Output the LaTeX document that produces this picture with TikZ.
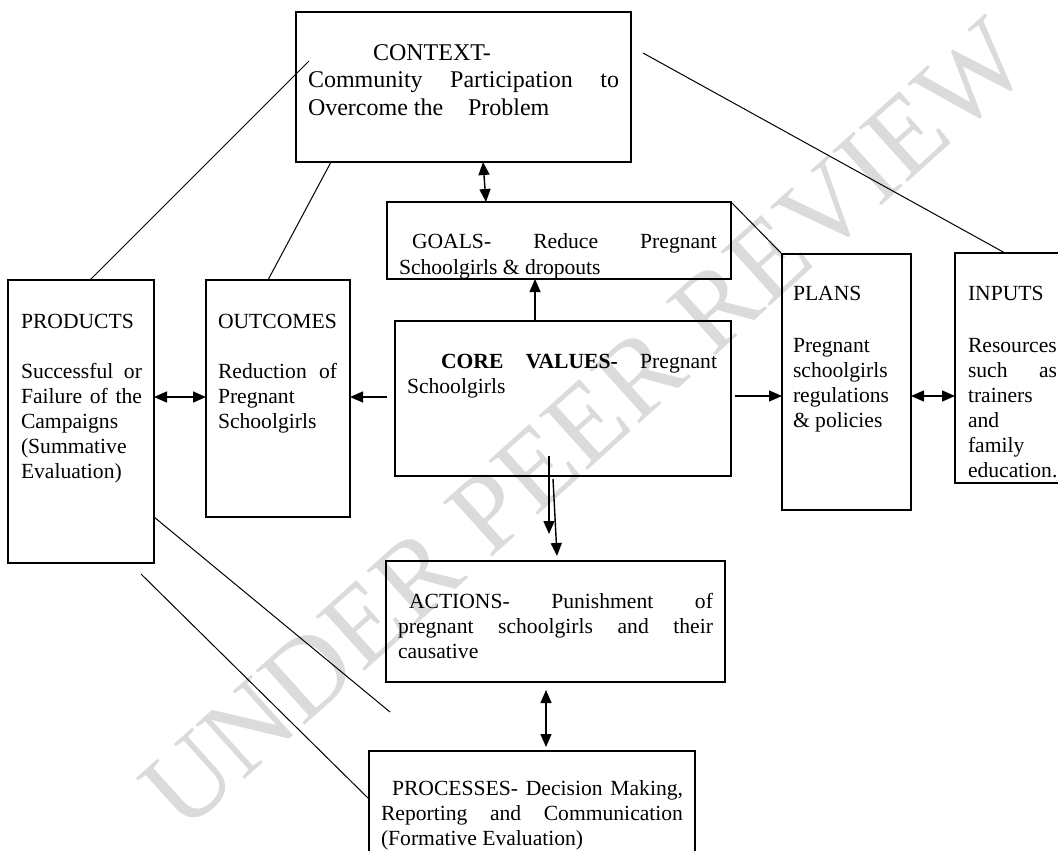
\documentclass[tikz,border=0pt]{standalone}
\usepackage{fontspec}
\setmainfont{Liberation Serif}
\usetikzlibrary{arrows.meta,calc}

\tikzset{
  box/.style={draw, line width=1pt, inner sep=0pt, outer sep=0pt, anchor=north west},
  txt/.style={inner sep=0pt, outer sep=0pt, anchor=base west, font=\fontsize{10.8}{12.5}\selectfont},
  ctxt/.style={inner sep=0pt, outer sep=0pt, anchor=base west, font=\fontsize{12}{13.75}\selectfont},
  con/.style={line width=0.7pt},
  arr/.style={con, -{Triangle[length=6.5pt,width=5.5pt]}},
  darr/.style={con, {Triangle[length=6.5pt,width=5.5pt]}-{Triangle[length=6.5pt,width=5.5pt]}},
  thinline/.style={line width=0.5pt},
  wmark/.style={rotate=42, text=black!14, inner sep=0pt, font=\fontsize{55.75}{60}\selectfont}
}

\begin{document}
\begin{tikzpicture}[x=0.5pt,y=-0.5pt]
\useasboundingbox (0,0) rectangle (1058,850);
\clip (0,0) rectangle (1058,850);

% watermark
\node[wmark] (wm) at (585,425) {UNDER PEER REVIEW};

% boxes
\node[box, minimum width=167.5pt, minimum height=75pt]   (ctx)    at (296,12)  {};
\node[box, minimum width=172pt,   minimum height=38.5pt] (goals)  at (387,202) {};
\node[box, minimum width=168pt,   minimum height=77.5pt] (core)   at (395,321) {};
\node[box, minimum width=73pt,    minimum height=141.5pt](prod)   at (8,280)   {};
\node[box, minimum width=72pt,    minimum height=118.5pt](outc)   at (206,280) {};
\node[box, minimum width=64.5pt,  minimum height=128pt]  (plans)  at (782,254) {};
\node[box, minimum width=57.5pt,  minimum height=115pt]  (inputs) at (955,253) {};
\node[box, minimum width=169.5pt, minimum height=60.5pt] (actions)at (386,561) {};
\node[box, minimum width=163pt,   minimum height=59.5pt] (procs)  at (369,751) {};

% CONTEXT
\node[ctxt] (ctxA) at (373,61)  {CONTEXT-};
\node[ctxt] (ctxB) at (308,88)  {\hbox to 155.5pt{Community\hfill Participation\hfill to}};
\node[ctxt] (ctxC) at (308,116) {\hbox to 80pt{Overcome the\hfil}Problem};

% GOALS
\node[txt] (gA) at (412,249) {\hbox to 152.5pt{GOALS-\hfill Reduce\hfill Pregnant}};
\node[txt] (gB) at (399,274) {Schoolgirls \& dropouts};

% CORE VALUES
\node[txt] (cA) at (441,368) {\hbox to 138pt{\textbf{CORE}\hfill\textbf{VALUES-}\hfill Pregnant}};
\node[txt] (cB) at (407,393) {Schoolgirls};

% PRODUCTS
\node[txt] (pA) at (21,328) {PRODUCTS};
\node[txt] (pB) at (21,378) {\hbox to 60.5pt{Successful\hfill or}};
\node[txt] (pC) at (21,403) {\hbox to 60.5pt{Failure\hfill of\hfill the}};
\node[txt] (pD) at (21,428) {Campaigns};
\node[txt] (pE) at (21,453) {(Summative};
\node[txt] (pF) at (21,478) {Evaluation)};

% OUTCOMES
\node[txt] (oA) at (218,328) {OUTCOMES};
\node[txt] (oB) at (218,378) {\hbox to 59.5pt{Reduction\hfill of}};
\node[txt] (oC) at (218,403) {Pregnant};
\node[txt] (oD) at (218,428) {Schoolgirls};

% PLANS
\node[txt] (lA) at (793,300) {PLANS};
\node[txt] (lB) at (793,352) {Pregnant};
\node[txt] (lC) at (793,377) {schoolgirls};
\node[txt] (lD) at (793,402) {regulations};
\node[txt] (lE) at (793,427) {\& policies};

% INPUTS
\node[txt] (iA) at (968,300) {INPUTS};
\node[txt] (iB) at (968,352) {Resources};
\node[txt] (iC) at (968,377) {\hbox to 44.5pt{such\hfill as}};
\node[txt] (iD) at (968,402) {trainers};
\node[txt] (iE) at (968,427) {and};
\node[txt] (iF) at (968,452) {family};
\node[txt] (iG) at (968,477) {education.};

% ACTIONS
\node[txt] (aA) at (409,608) {\hbox to 152pt{ACTIONS-\hfill Punishment\hfill of}};
\node[txt] (aB) at (398,633) {\hbox to 157.5pt{pregnant\hfill schoolgirls\hfill and\hfill their}};
\node[txt] (aC) at (398,658) {causative};

% PROCESSES
\node[txt] (rA) at (392,795) {\hbox to 145.5pt{PROCESSES-\hfill Decision\hfill Making,}};
\node[txt] (rB) at (381,820) {\hbox to 151pt{Reporting\hfill and\hfill Communication}};
\node[txt] (rC) at (381,845) {(Formative Evaluation)};

% arrows
\draw[darr] (483,0 |- ctx.south) -- (486,0 |- goals.north);
\draw[arr] (535,0 |- core.north) -- (535,0 |- goals.south);
\draw[arr] ($(core.west |- 0,397)+(-8,0)$) -- (outc.east |- 0,397);
\draw[darr] (prod.east |- 0,397) -- (outc.west |- 0,397);
\draw[arr] ($(core.east |- 0,396)+(4,0)$) -- (plans.west |- 0,396);
\draw[darr] (plans.east |- 0,396) -- (inputs.west |- 0,396);
\coordinate (d1s) at (549,456);
\coordinate (d1e) at (549,534);
\draw[arr] (d1s) -- (d1e);
\coordinate (d2s) at (553,479);
\coordinate (d2e) at (557,556);
\draw[arr] (d2s) -- (d2e);
\coordinate (e1) at (546,690);
\coordinate (e2) at (546,747);
\draw[darr] (e1) -- (e2);

% plain lines
\coordinate (l1e) at (309,61);
\draw[thinline] (90,0 |- prod.north) -- (l1e);
\draw[thinline] (268,0 |- outc.north) -- (331,0 |- ctx.south);
\coordinate (l3s) at (643,53);
\draw[thinline] (l3s) -- (1005,0 |- inputs.north);
\draw[thinline] (goals.north east) -- (plans.north west);
\coordinate (l5e) at (390,712);
\draw[thinline] (prod.east |- 0,517) -- (l5e);
\coordinate (l6s) at (141,574);
\draw[thinline] (l6s) -- (procs.west |- 0,799);
\end{tikzpicture}
\end{document}
